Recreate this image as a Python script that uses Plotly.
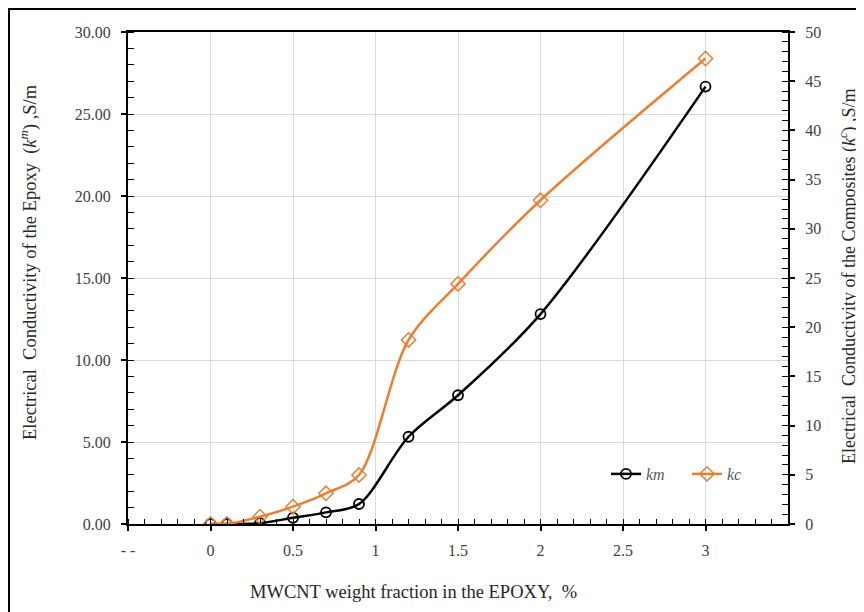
import plotly.graph_objects as go

# ---- data ----
mwcnt_wt = [0, 0.1, 0.3, 0.5, 0.7, 0.9, 1.2, 1.5, 2, 3]
k_m = [0.0, 0.0, 0.05, 0.38, 0.71, 1.22, 5.32, 7.85, 12.8, 26.67]
k_c = [0.0, 0.0, 0.74, 1.76, 3.12, 4.98, 18.7, 24.4, 32.9, 47.3]

x_tickvals = [-0.5, 0, 0.5, 1, 1.5, 2, 2.5, 3]
x_ticktext = ["- -", "0", "0.5", "1", "1.5", "2", "2.5", "3"]

# The page body has an 8px margin, so the figure is drawn 8px smaller
# and all reference pixel positions are shifted by 8px.
OFF = 8
W, H = 864 - OFF, 612 - OFF
L, R, T, B = 128 - OFF, 76, 32 - OFF, 88
PW, PH = W - L - R, H - T - B


def px(xp):
    return (xp - OFF - L) / PW


def py(yp):
    return (H - B - (yp - OFF)) / PH


FONT = "Liberation Serif"
BLACK = "#000000"
ORANGE = "#ED7D31"
GRID = "#D9D9D9"
TXT = "#404040"
TICKFONT = dict(family=FONT, size=16, color=TXT)

fig = go.Figure()
fig.add_trace(go.Scatter(
    x=mwcnt_wt, y=k_m, name="<i>km</i>", mode="lines+markers",
    line=dict(color=BLACK, width=2.5, shape="spline", smoothing=0.9),
    marker=dict(symbol="circle-open", size=10, color=BLACK, line=dict(width=1.8)),
    yaxis="y",
))
fig.add_trace(go.Scatter(
    x=mwcnt_wt, y=k_c, name="<i>kc</i>", mode="lines+markers",
    line=dict(color=ORANGE, width=2.5, shape="spline", smoothing=0.9),
    marker=dict(symbol="diamond-open", size=11, color=ORANGE, line=dict(width=1.5)),
    yaxis="y2",
))

fig.update_layout(
    width=W, height=H,
    margin=dict(l=L, r=R, t=T, b=B),
    paper_bgcolor="white", plot_bgcolor="white",
    font=dict(family=FONT, size=16, color=TXT),
    showlegend=True,
    legend=dict(
        orientation="h", x=px(606), y=py(474), xanchor="left", yanchor="middle",
        bgcolor="rgba(0,0,0,0)", font=dict(family=FONT, size=16, color="#595959"),
        itemwidth=30, entrywidth=36, entrywidthmode="pixels",
    ),
    xaxis=dict(
        range=[-0.5, 3.5], tickmode="array", tickvals=x_tickvals, ticktext=x_ticktext,
        showgrid=True, gridcolor=GRID, gridwidth=1.2,
        showline=True, linecolor=BLACK, linewidth=2, mirror=True,
        ticks="outside", ticklen=5, tickwidth=1.5, tickcolor=BLACK,
        ticklabelstandoff=6,
        minor=dict(tickmode="linear", tick0=0, dtick=0.1, ticks="inside",
                   ticklen=5, tickwidth=1.3, tickcolor=BLACK, showgrid=False),
        zeroline=False, tickfont=TICKFONT,
    ),
    yaxis=dict(
        range=[0, 30], tickmode="linear", tick0=0, dtick=5, tickformat=".2f",
        showgrid=True, gridcolor=GRID, gridwidth=1.2,
        showline=True, linecolor=BLACK, linewidth=2,
        ticks="outside", ticklen=5, tickwidth=1.5, tickcolor=BLACK,
        ticklabelstandoff=7,
        minor=dict(tickmode="linear", tick0=0, dtick=1, ticks="inside",
                   ticklen=6, tickwidth=1.3, tickcolor=BLACK, showgrid=False),
        zeroline=False, tickfont=TICKFONT,
    ),
    yaxis2=dict(
        range=[0, 50], overlaying="y", side="right", tickmode="linear", tick0=0, dtick=5,
        showgrid=False, showline=True, linecolor=BLACK, linewidth=2,
        ticks="outside", ticklen=5, tickwidth=1.5, tickcolor=BLACK,
        ticklabelstandoff=7,
        minor=dict(tickmode="linear", tick0=0, dtick=1, ticks="inside",
                   ticklen=6, tickwidth=1.3, tickcolor=BLACK, showgrid=False),
        zeroline=False, tickfont=TICKFONT,
    ),
)

# axis titles
fig.add_annotation(
    text="MWCNT weight fraction in the EPOXY,&nbsp; %",
    xref="paper", yref="paper", x=px(413), y=py(592),
    xanchor="center", yanchor="middle", showarrow=False,
    font=dict(family=FONT, size=18.5, color="#262626"),
)
fig.add_annotation(
    text="Electrical&nbsp; Conductivity of the Epoxy&nbsp; (<i>k</i><sup><i>m</i></sup>) ,S/m",
    xref="paper", yref="paper", x=px(28), y=py(262), textangle=-90,
    xanchor="center", yanchor="middle", showarrow=False,
    font=dict(family=FONT, size=18.5, color="#262626"),
)
fig.add_annotation(
    text="Electrical&nbsp; Conductivity of the Composites (<i>k</i><sup><i>c</i></sup>) ,S/m",
    xref="paper", yref="paper", x=px(848), y=py(276), textangle=-90,
    xanchor="center", yanchor="middle", showarrow=False,
    font=dict(family=FONT, size=18, color="#262626"),
)

# outer frame of the picture
frame = dict(color=BLACK, width=2)
fig.add_shape(type="line", xref="paper", yref="paper", x0=px(8), x1=px(864), y0=py(9), y1=py(9), line=frame)
fig.add_shape(type="line", xref="paper", yref="paper", x0=px(9), x1=px(9), y0=py(9), y1=py(612), line=frame)
fig.add_shape(type="line", xref="paper", yref="paper", x0=px(861), x1=px(861), y0=py(9), y1=py(612), line=frame)

fig.write_html("out.html")
